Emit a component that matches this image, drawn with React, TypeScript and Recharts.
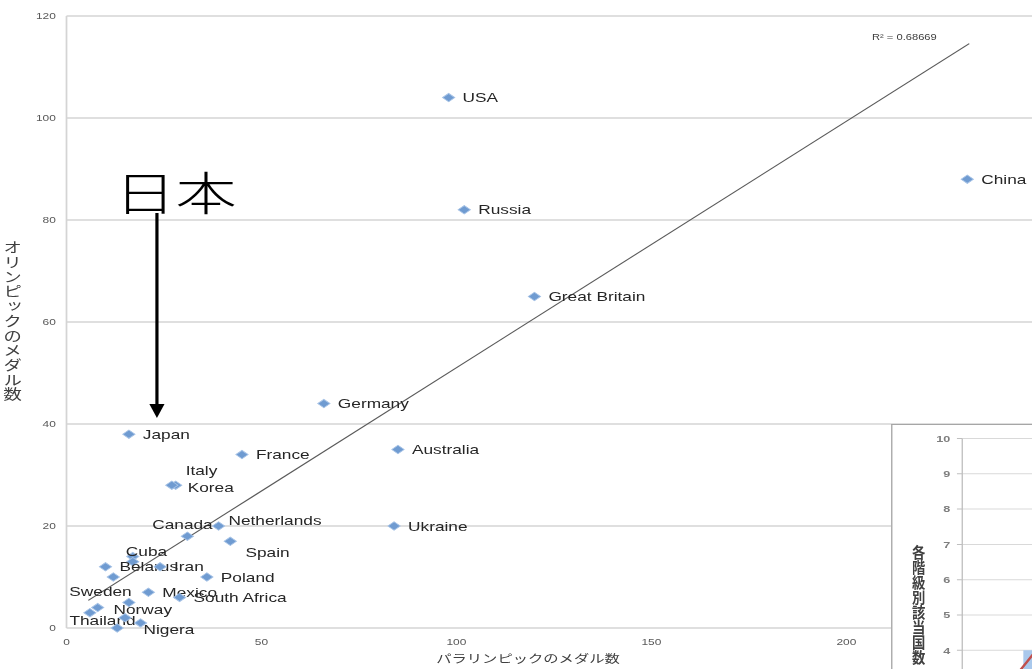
import { ScatterChart, Scatter, XAxis, YAxis, CartesianGrid, ReferenceLine, ComposedChart, Bar, Line } from "recharts"

// the source picture is stretched sideways, so the whole chart is drawn narrower and scaled back up
const STRETCH = 1.33

const countries = [
  "USA", "China", "Russia", "Great Britain", "Germany", "Japan", "France", "Australia",
  "Italy", "Korea", "Netherlands", "Canada", "Ukraine", "Spain", "Cuba", "",
  "Belarus", "Iran", "Sweden", "Poland", "Mexico", "South Africa", "", "Norway",
  "Thailand", "", "", "Nigera",
]
const paralympicMedals = [98, 231, 102, 120, 66, 16, 45, 85, 28, 27, 39, 31, 84, 42, 17, 17, 10, 24, 12, 36, 21, 29, 16, 8, 6, 15, 19, 13]
const olympicMedals = [104, 88, 82, 65, 44, 38, 34, 35, 28, 28, 20, 18, 20, 17, 14, 13, 12, 12, 10, 10, 7, 6, 5, 4, 3, 2, 1, 0]

const xTicks = [0, 50, 100, 150, 200]
const yTicks = [0, 20, 40, 60, 80, 100, 120]

// excel linear trendline, end points
const trendStart = { x: 5.6, y: 5.4 }
const trendEnd = { x: 231.5, y: 114.6 }
const rSquared = "R² = 0.68669"

// inset chart (mostly cut off at the bottom right)
const insetClasses = [1, 2, 3]
const insetCounts = [2, 4, 7]
const insetTrend = [2.8, 4.2, 6.4]
const insetTicks = [0, 1, 2, 3, 4, 5, 6, 7, 8, 9, 10]

const points = countries.map((name, i) => ({ name, x: paralympicMedals[i], y: olympicMedals[i] }))
const insetData = insetClasses.map((cls, i) => ({ cls, count: insetCounts[i], trend: insetTrend[i] }))

type Placement = { dx: number; dy: number; anchor?: "start" | "middle" | "end" }
const defaultPlacement: Placement = { dx: 10.5, dy: 0 }
const labelPlacement: Record<string, Placement> = {
  Italy: { dx: 7.5, dy: -15 },
  Korea: { dx: 12, dy: 2 },
  Canada: { dx: -3.7, dy: -12, anchor: "middle" },
  Netherlands: { dx: 7.4, dy: -6 },
  Spain: { dx: 11.4, dy: 10.7 },
  Cuba: { dx: 10.3, dy: -5.6, anchor: "middle" },
  Sweden: { dx: -9.6, dy: 14, anchor: "middle" },
  Norway: { dx: 11.9, dy: 1.5 },
  Thailand: { dx: 9.5, dy: 8, anchor: "middle" },
  Nigera: { dx: 19.8, dy: 1 },
}

const renderPoint = (props: any) => {
  const { cx, cy, payload } = props
  const p = labelPlacement[payload.name] ?? defaultPlacement
  return (
    <g>
      <path
        d={`M${cx},${cy - 4.2} L${cx + 4.6},${cy} L${cx},${cy + 4.2} L${cx - 4.6},${cy} Z`}
        fill="#6f9bd1"
        stroke="#a7c3e6"
        strokeWidth={0.8}
      />
      {payload.name ? (
        <text x={cx + p.dx} y={cy + p.dy} dy="0.35em" textAnchor={p.anchor ?? "start"} fontSize={13} fill="#262626">
          {payload.name}
        </text>
      ) : null}
    </g>
  )
}

const jp = '"Noto Sans CJK JP", sans-serif'

export default function App() {
  return (
    <div
      style={{
        position: "fixed",
        left: 0,
        top: 0,
        width: 1032,
        height: 669,
        overflow: "hidden",
        background: "#fff",
        fontFamily: '"Liberation Sans", Arial, sans-serif',
      }}
    >
      <div
        style={{
          position: "absolute",
          left: 0,
          top: 0,
          width: 800,
          height: 669,
          transform: `scaleX(${STRETCH})`,
          transformOrigin: "0 0",
        }}
      >
        <ScatterChart width={793} height={669} margin={{ top: 16, right: 10, bottom: 0, left: 0 }}>
          <CartesianGrid vertical={false} stroke="#d4d4d4" strokeWidth={1.3} />
          <XAxis
            type="number"
            dataKey="x"
            domain={[0, 250]}
            ticks={xTicks}
            interval={0}
            axisLine={false}
            tickLine={false}
            tickMargin={5}
            height={41}
            tick={{ fontSize: 9, fill: "#595959" }}
          />
          <YAxis
            type="number"
            dataKey="y"
            domain={[0, 120]}
            ticks={yTicks}
            interval={0}
            width={50}
            axisLine={{ stroke: "#d4d4d4", strokeWidth: 1.3 }}
            tickLine={false}
            tick={{ fontSize: 9, fill: "#595959" }}
          />
          <ReferenceLine segment={[trendStart, trendEnd]} stroke="#5a5a5a" strokeWidth={1} />
          <Scatter data={points} shape={renderPoint} isAnimationActive={false} />
        </ScatterChart>

        <svg style={{ position: "absolute", left: 0, top: 0 }} width={800} height={669}>
          <text x={86} y={210} fontSize={46} fontWeight={300} fontFamily={jp} fill="#000">
            日本
          </text>
          <line x1={118} y1={213} x2={118} y2={406} stroke="#000" strokeWidth={2.4} />
          <polygon points="112.3,404 123.7,404 118,418" fill="#000" />
          <text x={655.6} y={40} fontSize={8.4} fill="#404040">
            {rSquared}
          </text>
        </svg>

        <div
          style={{
            position: "absolute",
            left: 2.4,
            top: 240,
            writingMode: "vertical-rl",
            fontFamily: jp,
            fontSize: 14,
            lineHeight: 1,
            letterSpacing: 0.7,
            color: "#404040",
          }}
        >
          オリンピックのメダル数
        </div>
        <div
          style={{
            position: "absolute",
            left: 328,
            top: 653,
            fontFamily: jp,
            fontSize: 11.5,
            lineHeight: 1,
            color: "#404040",
            whiteSpace: "nowrap",
          }}
        >
          パラリンピックのメダル数
        </div>

        <div
          style={{
            position: "absolute",
            left: 670,
            top: 424,
            width: 230,
            height: 400,
            boxSizing: "border-box",
            background: "#fff",
            borderTop: "1.5px solid #a6a6a6",
            borderLeft: "1.5px solid #a6a6a6",
          }}
        >
          <ComposedChart width={352} height={376.5} data={insetData} margin={{ top: 13.5, right: 0, bottom: 10, left: 0 }}>
            <CartesianGrid vertical={false} stroke="#d9d9d9" />
            <XAxis type="number" dataKey="cls" domain={[0, 10]} hide />
            <YAxis
              domain={[0, 10]}
              ticks={insetTicks}
              interval={0}
              width={52.5}
              tickSize={4}
              tickMargin={5}
              axisLine={{ stroke: "#bfbfbf" }}
              tickLine={{ stroke: "#bfbfbf" }}
              tick={{ fontSize: 9.5, fill: "#7f7f7f", fontWeight: "bold" }}
            />
            <Bar dataKey="count" barSize={28} fill="#a9c8ec" isAnimationActive={false} />
            <Line dataKey="trend" stroke="#c0504d" strokeWidth={2} dot={false} isAnimationActive={false} />
          </ComposedChart>
        </div>
        <div
          style={{
            position: "absolute",
            left: 685.2,
            top: 545,
            writingMode: "vertical-rl",
            fontFamily: jp,
            fontSize: 10,
            fontWeight: "bold",
            lineHeight: 1,
            color: "#404040",
            transform: "scaleY(1.5)",
            transformOrigin: "0 0",
          }}
        >
          各階級別該当国数
        </div>
      </div>
    </div>
  )
}
